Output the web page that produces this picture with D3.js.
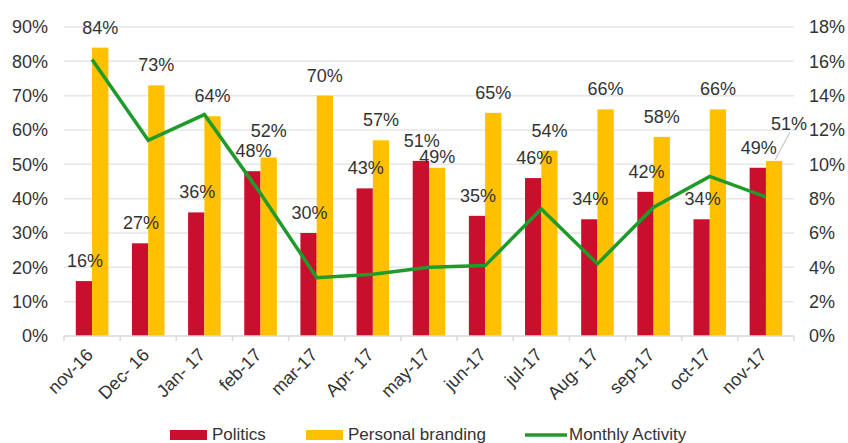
<!DOCTYPE html>
<html>
<head>
<meta charset="utf-8">
<script src="https://cdn.jsdelivr.net/npm/d3@7"></script>
<style>
  body { margin: 0; background: #fff; }
  text { font-family: "Liberation Sans", Arial, sans-serif; fill: #333; }
</style>
</head>
<body>
<div class="chart"></div>
<script>
const months = ["nov-16", "Dec- 16", "Jan- 17", "feb-17", "mar-17", "Apr- 17", "may-17",
    "jun-17", "jul-17", "Aug- 17", "sep-17", "oct-17", "nov-17"];
const politics = [16, 27, 36, 48, 30, 43, 51, 35, 46, 34, 42, 34, 49];
const branding = [84, 73, 64, 52, 70, 57, 49, 65, 54, 66, 58, 66, 51];
const activity = [16.1, 11.4, 12.9, 8.3, 3.4, 3.6, 4.0, 4.1, 7.4, 4.2, 7.5, 9.3, 8.1];
const leftTicks = [0, 10, 20, 30, 40, 50, 60, 70, 80, 90];
const rightTicks = [0, 2, 4, 6, 8, 10, 12, 14, 16, 18];

const svgWidth = 848, svgHeight = 443;
const plotLeft = 64, plotRight = 794, plotTop = 27, plotBottom = 336;

const svg = d3.select(".chart").append("svg")
    .attr("width", svgWidth)
    .attr("height", svgHeight);

const x = d3.scaleBand().domain(months).range([plotLeft, plotRight]).paddingInner(0.42).paddingOuter(0.21);
const y = d3.scaleLinear().domain([0, 90]).range([plotBottom, plotTop]);
const y2 = d3.scaleLinear().domain([0, 18]).range([plotBottom, plotTop]);
const bw = x.bandwidth() / 2;

// gridlines
svg.append("g")
    .selectAll("line")
    .data(leftTicks.slice(1))
    .join("line")
    .attr("x1", plotLeft).attr("x2", plotRight)
    .attr("y1", d => y(d)).attr("y2", d => y(d))
    .attr("stroke", "#e6e6e6").attr("stroke-width", 1.5);

// left axis
svg.append("g")
    .attr("transform", `translate(${plotLeft},0)`)
    .call(d3.axisLeft(y).tickValues(leftTicks).tickFormat(d => d + "%").tickSize(0).tickPadding(16))
    .call(g => g.select(".domain").remove())
    .selectAll("text").style("font-size", "18px").attr("fill", "#333");

// right axis
svg.append("g")
    .attr("transform", `translate(${plotRight},0)`)
    .call(d3.axisRight(y2).tickValues(rightTicks).tickFormat(d => d + "%").tickSize(0).tickPadding(15))
    .call(g => g.select(".domain").remove())
    .selectAll("text").style("font-size", "18px").attr("fill", "#333");

// bars
svg.append("g").selectAll("rect")
    .data(politics)
    .join("rect")
    .attr("x", (d, i) => x(months[i]))
    .attr("y", d => y(d))
    .attr("width", bw)
    .attr("height", d => plotBottom - y(d))
    .attr("fill", "#c8102e");

svg.append("g").selectAll("rect")
    .data(branding)
    .join("rect")
    .attr("x", (d, i) => x(months[i]) + bw)
    .attr("y", d => y(d))
    .attr("width", bw)
    .attr("height", d => plotBottom - y(d))
    .attr("fill", "#ffc000");

// x axis
const xAxis = svg.append("g").attr("transform", `translate(0,${plotBottom})`);
xAxis.append("line")
    .attr("x1", plotLeft).attr("x2", plotRight)
    .attr("stroke", "#d9d9d9").attr("stroke-width", 1.5);
xAxis.selectAll("line.tk")
    .data(d3.range(months.length + 1))
    .join("line")
    .attr("class", "tk")
    .attr("x1", i => plotLeft + i * x.step())
    .attr("x2", i => plotLeft + i * x.step())
    .attr("y1", 0).attr("y2", 5)
    .attr("stroke", "#d9d9d9").attr("stroke-width", 1.5);
xAxis.selectAll("text")
    .data(months)
    .join("text")
    .attr("transform", d => `translate(${x(d) + bw + 2},20) rotate(-45)`)
    .attr("text-anchor", "end")
    .style("font-size", "18px")
    .text(d => d);

// line
const line = d3.line()
    .x((d, i) => x(months[i]) + bw)
    .y(d => y2(d));
svg.append("path")
    .datum(activity)
    .attr("d", line)
    .attr("fill", "none")
    .attr("stroke", "#1e9b2a")
    .attr("stroke-width", 3.5);

// data labels
svg.append("g").selectAll("text")
    .data(politics)
    .join("text")
    .attr("x", (d, i) => x(months[i]) + bw / 2 + 1)
    .attr("y", d => y(d) - 14)
    .attr("text-anchor", "middle")
    .style("font-size", "18px")
    .text(d => d + "%");

// a few labels sit off their default spot, as in the original
const labelShift = { 3: -6, 6: 9 };
svg.append("g").selectAll("text")
    .data(branding)
    .join("text")
    .attr("x", (d, i) => i === 12 ? x(months[i]) + bw * 1.5 + 15 : x(months[i]) + bw * 1.5)
    .attr("y", (d, i) => i === 12 ? y(d) - 31 : y(d) - 14 + (labelShift[i] || 0))
    .attr("text-anchor", "middle")
    .style("font-size", "18px")
    .text(d => d + "%");

// leader line for last label
const lastX = x(months[12]) + bw * 1.5;
svg.append("line")
    .attr("x1", lastX + 1).attr("y1", y(branding[12]) - 1)
    .attr("x2", lastX + 16).attr("y2", y(branding[12]) - 29)
    .attr("stroke", "#bbb").attr("stroke-width", 1);

// legend
const legend = svg.append("g").attr("transform", `translate(0,435)`);
const items = [
    { name: "Politics", color: "#c8102e", x: 170, type: "rect" },
    { name: "Personal branding", color: "#ffc000", x: 306, type: "rect" },
    { name: "Monthly Activity", color: "#1e9b2a", x: 525, type: "line" }
];
items.forEach(it => {
    if (it.type === "rect") {
        legend.append("rect").attr("x", it.x).attr("y", -5).attr("width", 37).attr("height", 10).attr("fill", it.color);
    } else {
        legend.append("line").attr("x1", it.x).attr("x2", it.x + 42).attr("y1", 0).attr("y2", 0)
            .attr("stroke", it.color).attr("stroke-width", 3.5);
    }
    legend.append("text")
        .attr("x", it.x + (it.type === "rect" ? 42 : 44))
        .attr("y", 5)
        .style("font-size", "17px")
        .text(it.name);
});
</script>
</body>
</html>
